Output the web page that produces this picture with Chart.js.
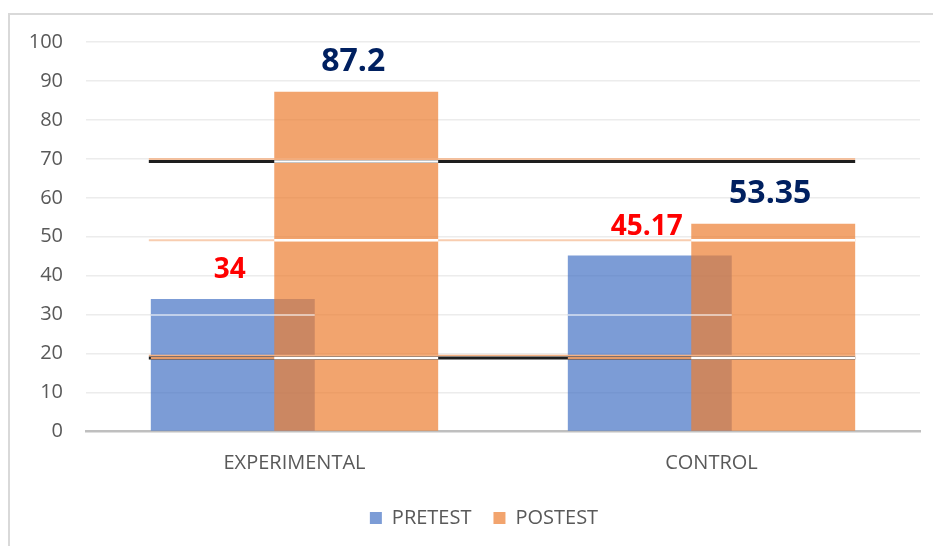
<!DOCTYPE html>
<html>
<head>
<meta charset="utf-8">
<script src="https://cdn.jsdelivr.net/npm/chart.js@4"></script>
<style>
  html, body { margin: 0; padding: 0; background: #fff; }
  #wrap { position: relative; width: 933px; height: 546px; overflow: hidden; }
  #frame { position: absolute; left: 8px; top: 13px; width: 940px; height: 560px;
           border-top: 2px solid #d9d9d9; border-left: 2px solid #d9d9d9; box-sizing: border-box; }
  #chart { position: absolute; left: 0; top: 0; }
</style>
</head>
<body>
<div id="wrap">
  <div id="frame"></div>
  <canvas id="chart" width="933" height="546"></canvas>
</div>
<script>
// Data
const categories = ['EXPERIMENTAL', 'CONTROL'];
const pretest = [34, 45.17];
const posttest = [87.2, 53.35];
const yMin = 0, yMax = 100, yStep = 10;

// stray horizontal strokes visible in the original picture (in axis units)
const darkLines = [69.3, 18.9];
const peachLines = [49.1];
const paleLines = [29.9];

const FONT = '"Open Sans", "Noto Sans", sans-serif';
const textGrey = '#595959';

// Chart.js paints the last dataset first; paint them in dataset order
// instead so the translucent POSTEST bars sit over the PRETEST ones
const paintInOrder = {
  id: 'paintInOrder',
  beforeDatasetDraw() { return false; },
  afterDatasetsDraw(chart) {
    chart.data.datasets.forEach((ds, i) => chart.getDatasetMeta(i).controller.draw());
  },
  afterLayout(chart) {
    // legend sits a bit right of the canvas centre in the original
    chart.legend.left += 24;
    chart.legend.right += 24;
  }
};

// draws those stray strokes, clipped by the bar elements
const overlayLines = {
  id: 'overlayLines',
  afterDatasetsDraw(chart) {
    const { ctx, scales: { y } } = chart;
    const pre = chart.getDatasetMeta(0).data;
    const post = chart.getDatasetMeta(1).data;
    const all = pre.concat(post);
    const x0 = Math.min(...all.map(b => b.x - b.width / 2)) - 2;
    const x1 = Math.max(...all.map(b => b.x + b.width / 2));

    const seg = (py, xa, xb, color, w) => {
      ctx.save();
      ctx.strokeStyle = color;
      ctx.lineWidth = w;
      ctx.beginPath();
      ctx.moveTo(xa, py);
      ctx.lineTo(xb, py);
      ctx.stroke();
      ctx.restore();
    };
    const inside = (bars, v, color, w) => {
      const py = y.getPixelForValue(v);
      bars.forEach(b => {
        if (b.y < py) seg(py, b.x - b.width / 2, b.x + b.width / 2, color, w);
      });
    };

    darkLines.forEach(v => {
      const py = y.getPixelForValue(v);
      seg(py - 2.5, x0, x1, '#f4b183', 1.5);
      seg(py, x0, x1, '#1e1e1e', 3);
      inside(pre, v, '#e39a68', 2.5);
      inside(post, v, '#ffffff', 2.5);
    });
    peachLines.forEach(v => {
      const py = y.getPixelForValue(v);
      seg(py, x0, x1, '#f8cdb0', 2);
      inside(post, v, '#ffffff', 2.5);
    });
    paleLines.forEach(v => {
      inside(pre, v, 'rgba(255,255,255,0.55)', 2);
    });
  }
};

// value labels above each bar
const barLabels = {
  id: 'barLabels',
  afterDatasetsDraw(chart) {
    const { ctx } = chart;
    chart.data.datasets.forEach((ds, i) => {
      chart.getDatasetMeta(i).data.forEach((bar, j) => {
        ctx.save();
        ctx.font = `bold ${ds.labelSize}px ${FONT}`;
        ctx.fillStyle = ds.labelColor;
        ctx.textAlign = 'center';
        ctx.textBaseline = 'alphabetic';
        ctx.fillText(String(ds.data[j]), bar.x - 3, bar.y - 21);
        ctx.restore();
      });
    });
  }
};

new Chart(document.getElementById('chart'), {
  type: 'bar',
  data: {
    labels: categories,
    datasets: [
      {
        label: 'PRETEST',
        data: pretest,
        backgroundColor: 'rgba(68,114,196,0.7)',
        borderWidth: 0,
        labelColor: '#ff0000',
        labelSize: 28
      },
      {
        label: 'POSTEST',
        data: posttest,
        backgroundColor: 'rgba(237,125,49,0.7)',
        borderWidth: 0,
        labelColor: '#002060',
        labelSize: 32
      }
    ]
  },
  options: {
    responsive: false,
    animation: false,
    events: [],
    categoryPercentage: 0.592,
    barPercentage: 1.328,
    layout: { padding: { left: 0, right: 13, top: 42, bottom: 8 } },
    plugins: {
      legend: {
        position: 'bottom',
        labels: {
          color: textGrey,
          font: { family: FONT, size: 20 },
          boxWidth: 12, boxHeight: 12,
          padding: 22
        }
      },
      tooltip: { enabled: false }
    },
    scales: {
      x: {
        grid: { display: false },
        border: { display: true, color: '#bfbfbf', width: 2.5 },
        ticks: { color: textGrey, font: { family: FONT, size: 20 }, padding: 11.5 },
        afterFit(scale) { scale.height = 54.5; }
      },
      y: {
        min: yMin, max: yMax,
        ticks: { stepSize: yStep, color: textGrey, font: { family: FONT, size: 20 }, padding: 23 },
        grid: {
          drawTicks: false,
          color: ctx => ctx.tick && ctx.tick.value === 0 ? 'rgba(0,0,0,0)' : '#ececec',
          lineWidth: 1.5
        },
        border: { display: false },
        afterFit(scale) { scale.width = 86; }
      }
    }
  },
  plugins: [paintInOrder, overlayLines, barLabels]
});
</script>
</body>
</html>
